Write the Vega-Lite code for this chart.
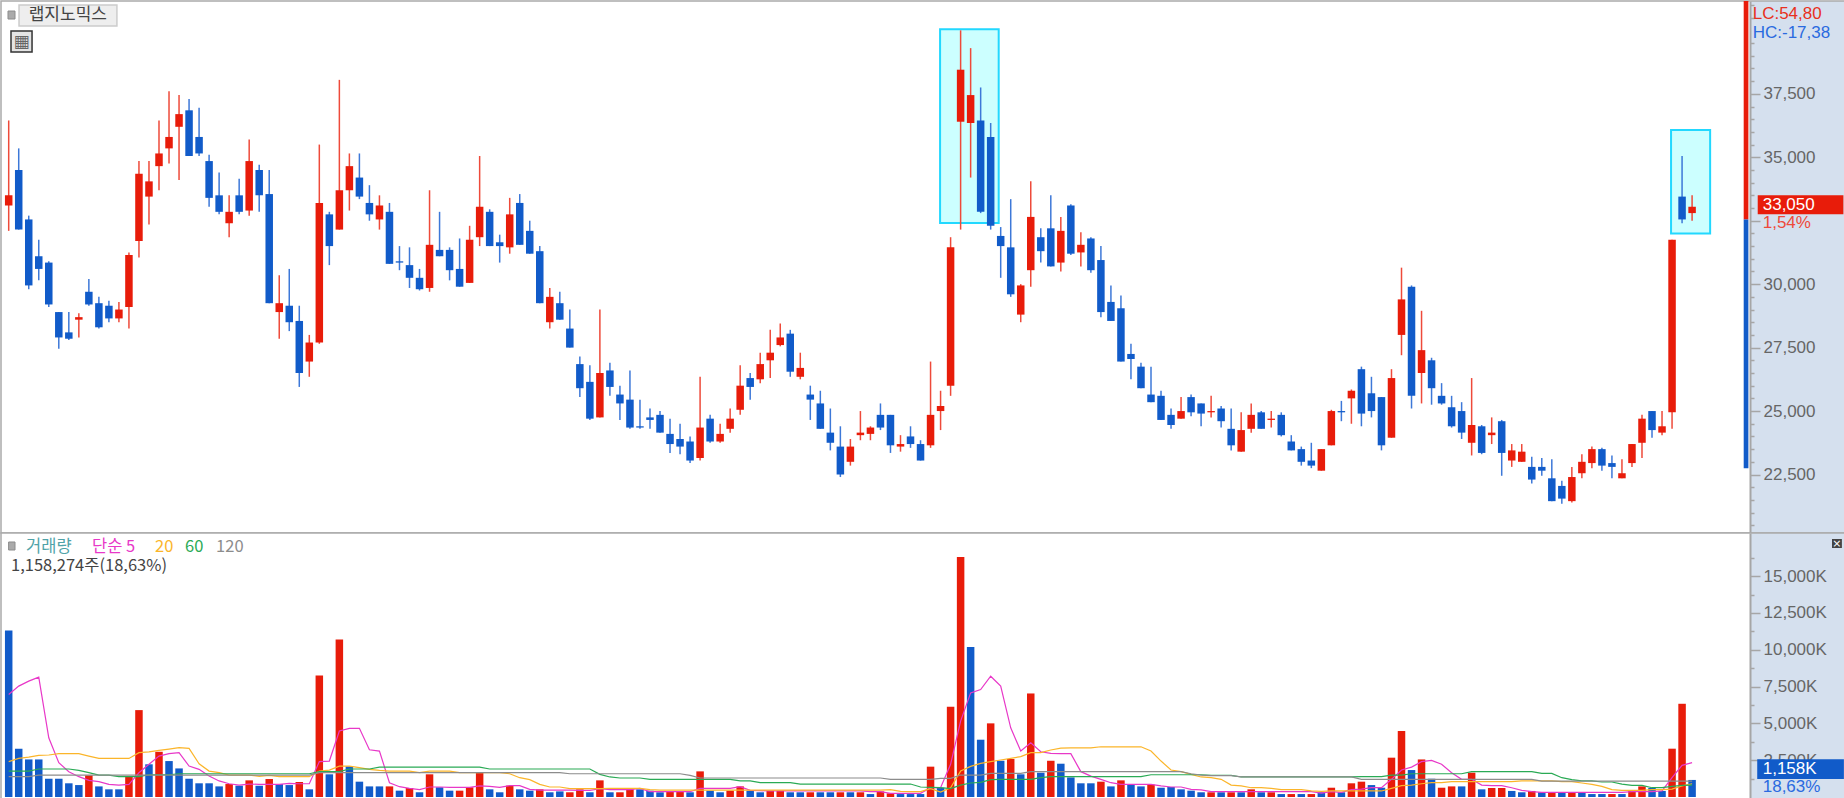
{"$schema":"https://vega.github.io/schema/vega-lite/v6.json","padding":0,"spacing":0,"bounds":"flush","resolve":{"scale":{"color":"independent"}},"background":"#ffffff","config":{"view":{"stroke":null},"concat":{"spacing":0},"axis":{"title":null}},
"datasets":{"d":[
{"i":0,"o":33100,"h":36450,"l":32100,"c":33500,"v":11300,"vd":"d","m5":6960,"m20":2400,"m60":1760,"m120":1380},
{"i":1,"o":34500,"h":35350,"l":32150,"c":32150,"v":3280,"vd":"d","m5":7530,"m20":2620,"m60":1760,"m120":1380},
{"i":2,"o":32550,"h":32700,"l":29800,"c":29950,"v":2550,"vd":"d","m5":7870,"m20":2710,"m60":1760,"m120":1380},
{"i":3,"o":31100,"h":31750,"l":30150,"c":30600,"v":2550,"vd":"d","m5":8140,"m20":2830,"m60":1900,"m120":1490},
{"i":4,"o":30850,"h":30900,"l":29100,"c":29200,"v":1240,"vd":"d","m5":4020,"m20":2850,"m60":1900,"m120":1490},
{"i":5,"o":28900,"h":28900,"l":27450,"c":27900,"v":1240,"vd":"d","m5":2330,"m20":2940,"m60":1900,"m120":1490},
{"i":6,"o":28100,"h":28900,"l":27800,"c":27850,"v":930,"vd":"d","m5":1720,"m20":2940,"m60":1900,"m120":1490},
{"i":7,"o":28600,"h":28850,"l":27900,"c":28700,"v":810,"vd":"d","m5":1380,"m20":2940,"m60":1810,"m120":1490},
{"i":8,"o":29700,"h":30200,"l":29150,"c":29200,"v":1470,"vd":"u","m5":1130,"m20":2780,"m60":1650,"m120":1490},
{"i":9,"o":29250,"h":29500,"l":28250,"c":28300,"v":720,"vd":"d","m5":1040,"m20":2620,"m60":1490,"m120":1490},
{"i":10,"o":29150,"h":29350,"l":28500,"c":28650,"v":520,"vd":"d","m5":860,"m20":2620,"m60":1490,"m120":1490},
{"i":11,"o":28650,"h":29300,"l":28500,"c":29000,"v":520,"vd":"d","m5":810,"m20":2620,"m60":1380,"m120":1490},
{"i":12,"o":29100,"h":31250,"l":28250,"c":31150,"v":1380,"vd":"u","m5":860,"m20":2620,"m60":1380,"m120":1490},
{"i":13,"o":31700,"h":34850,"l":31050,"c":34350,"v":5900,"vd":"u","m5":1650,"m20":3010,"m60":1380,"m120":1490},
{"i":14,"o":33450,"h":34850,"l":32350,"c":34050,"v":2220,"vd":"d","m5":2220,"m20":3070,"m60":1510,"m120":1490},
{"i":15,"o":34650,"h":36450,"l":33700,"c":35150,"v":3070,"vd":"u","m5":2780,"m20":3160,"m60":1510,"m120":1490},
{"i":16,"o":35350,"h":37600,"l":34750,"c":35800,"v":2440,"vd":"d","m5":2940,"m20":3250,"m60":1510,"m120":1490},
{"i":17,"o":36200,"h":37450,"l":34100,"c":36700,"v":1940,"vd":"d","m5":3010,"m20":3350,"m60":1580,"m120":1490},
{"i":18,"o":36850,"h":37300,"l":35050,"c":35050,"v":1240,"vd":"d","m5":2100,"m20":3300,"m60":1580,"m120":1490},
{"i":19,"o":35800,"h":36950,"l":35050,"c":35150,"v":930,"vd":"d","m5":1880,"m20":2260,"m60":1580,"m120":1490},
{"i":20,"o":34850,"h":35100,"l":33050,"c":33400,"v":930,"vd":"d","m5":1420,"m20":1760,"m60":1580,"m120":1490},
{"i":21,"o":33500,"h":34400,"l":32750,"c":32850,"v":720,"vd":"d","m5":1090,"m20":1650,"m60":1580,"m120":1490},
{"i":22,"o":32400,"h":33500,"l":31850,"c":32850,"v":880,"vd":"u","m5":900,"m20":1490,"m60":1580,"m120":1490},
{"i":23,"o":33500,"h":34150,"l":32750,"c":32850,"v":770,"vd":"d","m5":810,"m20":1490,"m60":1580,"m120":1490},
{"i":24,"o":32900,"h":35700,"l":32700,"c":34850,"v":1130,"vd":"u","m5":880,"m20":1490,"m60":1580,"m120":1490},
{"i":25,"o":34500,"h":34700,"l":32850,"c":33500,"v":770,"vd":"d","m5":860,"m20":1400,"m60":1580,"m120":1490},
{"i":26,"o":33550,"h":34500,"l":29250,"c":29250,"v":1220,"vd":"u","m5":860,"m20":1470,"m60":1580,"m120":1490},
{"i":27,"o":28900,"h":30350,"l":27850,"c":29250,"v":880,"vd":"d","m5":860,"m20":1380,"m60":1580,"m120":1490},
{"i":28,"o":29150,"h":30600,"l":28150,"c":28500,"v":810,"vd":"d","m5":930,"m20":1380,"m60":1580,"m120":1490},
{"i":29,"o":28550,"h":29150,"l":25950,"c":26500,"v":1020,"vd":"u","m5":900,"m20":1380,"m60":1580,"m120":1490},
{"i":30,"o":26950,"h":28000,"l":26350,"c":27700,"v":520,"vd":"d","m5":900,"m20":1380,"m60":1580,"m120":1490},
{"i":31,"o":27700,"h":35500,"l":27650,"c":33200,"v":8250,"vd":"u","m5":2400,"m20":1760,"m60":1720,"m120":1650},
{"i":32,"o":32750,"h":32850,"l":30750,"c":31500,"v":1540,"vd":"d","m5":2440,"m20":1830,"m60":1720,"m120":1650},
{"i":33,"o":32150,"h":38050,"l":32150,"c":33700,"v":10690,"vd":"u","m5":4480,"m20":2100,"m60":1720,"m120":1650},
{"i":34,"o":33700,"h":35150,"l":32900,"c":34650,"v":2080,"vd":"d","m5":4660,"m20":2100,"m60":1900,"m120":1650},
{"i":35,"o":34200,"h":35150,"l":33350,"c":33450,"v":1040,"vd":"d","m5":4660,"m20":1990,"m60":1900,"m120":1650},
{"i":36,"o":33200,"h":33900,"l":32500,"c":32750,"v":720,"vd":"d","m5":3210,"m20":1880,"m60":1900,"m120":1650},
{"i":37,"o":32550,"h":33500,"l":32150,"c":33100,"v":720,"vd":"d","m5":3120,"m20":1810,"m60":2030,"m120":1650},
{"i":38,"o":32850,"h":33200,"l":30800,"c":30800,"v":720,"vd":"u","m5":970,"m20":1760,"m60":2030,"m120":1650},
{"i":39,"o":30900,"h":31500,"l":30550,"c":30850,"v":430,"vd":"d","m5":700,"m20":1760,"m60":2030,"m120":1650},
{"i":40,"o":30750,"h":31450,"l":29850,"c":30250,"v":610,"vd":"u","m5":590,"m20":1760,"m60":2030,"m120":1650},
{"i":41,"o":30250,"h":30600,"l":29750,"c":29800,"v":320,"vd":"d","m5":500,"m20":1650,"m60":2030,"m120":1650},
{"i":42,"o":29850,"h":33700,"l":29700,"c":31550,"v":1540,"vd":"u","m5":680,"m20":1760,"m60":2030,"m120":1650},
{"i":43,"o":31350,"h":32850,"l":31100,"c":31100,"v":660,"vd":"d","m5":680,"m20":1760,"m60":2030,"m120":1650},
{"i":44,"o":31350,"h":31450,"l":30150,"c":30550,"v":430,"vd":"d","m5":660,"m20":1760,"m60":2030,"m120":1650},
{"i":45,"o":30600,"h":31800,"l":29900,"c":29900,"v":430,"vd":"u","m5":660,"m20":1650,"m60":2030,"m120":1650},
{"i":46,"o":30050,"h":32300,"l":30050,"c":31750,"v":660,"vd":"u","m5":660,"m20":1650,"m60":2030,"m120":1650},
{"i":47,"o":31850,"h":35050,"l":31500,"c":33050,"v":1650,"vd":"u","m5":750,"m20":1650,"m60":2030,"m120":1650},
{"i":48,"o":32850,"h":32950,"l":31500,"c":31500,"v":520,"vd":"d","m5":720,"m20":1650,"m60":1900,"m120":1650},
{"i":49,"o":31650,"h":31950,"l":30850,"c":31500,"v":320,"vd":"d","m5":660,"m20":1650,"m60":1900,"m120":1650},
{"i":50,"o":31450,"h":33400,"l":31200,"c":32750,"v":770,"vd":"u","m5":770,"m20":1580,"m60":1900,"m120":1650},
{"i":51,"o":33200,"h":33550,"l":31550,"c":31550,"v":520,"vd":"d","m5":770,"m20":1310,"m60":1900,"m120":1650},
{"i":52,"o":32100,"h":32500,"l":31200,"c":31200,"v":430,"vd":"d","m5":520,"m20":1180,"m60":1900,"m120":1650},
{"i":53,"o":31300,"h":31500,"l":29250,"c":29250,"v":520,"vd":"u","m5":470,"m20":860,"m60":1900,"m120":1650},
{"i":54,"o":28500,"h":29850,"l":28250,"c":29500,"v":320,"vd":"d","m5":470,"m20":680,"m60":1900,"m120":1650},
{"i":55,"o":29250,"h":29700,"l":28600,"c":28600,"v":380,"vd":"d","m5":470,"m20":680,"m60":1900,"m120":1650},
{"i":56,"o":28250,"h":29000,"l":27500,"c":27500,"v":320,"vd":"u","m5":470,"m20":570,"m60":1900,"m120":1580},
{"i":57,"o":26850,"h":27150,"l":25550,"c":25900,"v":520,"vd":"u","m5":450,"m20":570,"m60":1900,"m120":1580},
{"i":58,"o":26150,"h":26800,"l":24650,"c":24700,"v":320,"vd":"d","m5":450,"m20":570,"m60":1900,"m120":1580},
{"i":59,"o":24750,"h":29000,"l":24750,"c":26500,"v":1130,"vd":"u","m5":560,"m20":570,"m60":1540,"m120":1580},
{"i":60,"o":26600,"h":26900,"l":25600,"c":25950,"v":320,"vd":"d","m5":500,"m20":590,"m60":1360,"m120":1580},
{"i":61,"o":25650,"h":26000,"l":24650,"c":25300,"v":320,"vd":"u","m5":500,"m20":590,"m60":1290,"m120":1580},
{"i":62,"o":25450,"h":26600,"l":24300,"c":24350,"v":520,"vd":"u","m5":500,"m20":590,"m60":1290,"m120":1580},
{"i":63,"o":24400,"h":25450,"l":24300,"c":24350,"v":520,"vd":"d","m5":590,"m20":590,"m60":1290,"m120":1580},
{"i":64,"o":24750,"h":25100,"l":24300,"c":24650,"v":430,"vd":"d","m5":360,"m20":500,"m60":1200,"m120":1580},
{"i":65,"o":24850,"h":25000,"l":24150,"c":24150,"v":320,"vd":"d","m5":360,"m20":460,"m60":1200,"m120":1580},
{"i":66,"o":24100,"h":24700,"l":23350,"c":23700,"v":380,"vd":"u","m5":360,"m20":460,"m60":1200,"m120":1580},
{"i":67,"o":23900,"h":24500,"l":23300,"c":23600,"v":380,"vd":"u","m5":360,"m20":460,"m60":1200,"m120":1580},
{"i":68,"o":23800,"h":24000,"l":22950,"c":23050,"v":320,"vd":"d","m5":360,"m20":460,"m60":1200,"m120":1470},
{"i":69,"o":23150,"h":26350,"l":23050,"c":24350,"v":1740,"vd":"u","m5":590,"m20":460,"m60":1200,"m120":1290},
{"i":70,"o":24700,"h":24850,"l":23750,"c":23800,"v":430,"vd":"d","m5":590,"m20":460,"m60":1200,"m120":1290},
{"i":71,"o":23800,"h":24500,"l":23750,"c":24100,"v":320,"vd":"d","m5":590,"m20":460,"m60":1200,"m120":1290},
{"i":72,"o":24300,"h":25100,"l":24150,"c":24700,"v":430,"vd":"u","m5":590,"m20":460,"m60":1200,"m120":1290},
{"i":73,"o":25050,"h":26800,"l":24850,"c":26000,"v":720,"vd":"u","m5":700,"m20":460,"m60":1090,"m120":1290},
{"i":74,"o":26300,"h":26500,"l":25450,"c":25950,"v":430,"vd":"d","m5":450,"m20":460,"m60":1090,"m120":1290},
{"i":75,"o":26250,"h":27300,"l":26100,"c":26850,"v":320,"vd":"d","m5":430,"m20":460,"m60":970,"m120":1290},
{"i":76,"o":27000,"h":28200,"l":26300,"c":27300,"v":430,"vd":"u","m5":410,"m20":460,"m60":970,"m120":1290},
{"i":77,"o":27600,"h":28450,"l":27550,"c":27900,"v":430,"vd":"u","m5":410,"m20":460,"m60":970,"m120":1290},
{"i":78,"o":28050,"h":28200,"l":26350,"c":26550,"v":320,"vd":"d","m5":410,"m20":460,"m60":970,"m120":1290},
{"i":79,"o":26350,"h":27300,"l":26250,"c":26700,"v":320,"vd":"d","m5":410,"m20":460,"m60":880,"m120":1290},
{"i":80,"o":25650,"h":26000,"l":24650,"c":25450,"v":320,"vd":"u","m5":410,"m20":460,"m60":880,"m120":1290},
{"i":81,"o":25300,"h":25800,"l":24300,"c":24300,"v":320,"vd":"d","m5":410,"m20":460,"m60":880,"m120":1290},
{"i":82,"o":24150,"h":25100,"l":23450,"c":23750,"v":320,"vd":"d","m5":410,"m20":460,"m60":880,"m120":1290},
{"i":83,"o":23600,"h":24400,"l":22400,"c":22500,"v":320,"vd":"u","m5":410,"m20":460,"m60":880,"m120":1290},
{"i":84,"o":23000,"h":23900,"l":22850,"c":23600,"v":320,"vd":"d","m5":410,"m20":460,"m60":880,"m120":1290},
{"i":85,"o":24050,"h":25000,"l":23850,"c":24150,"v":320,"vd":"u","m5":410,"m20":460,"m60":880,"m120":1290},
{"i":86,"o":24100,"h":24400,"l":23850,"c":24350,"v":200,"vd":"d","m5":360,"m20":460,"m60":880,"m120":1290},
{"i":87,"o":24850,"h":25300,"l":24250,"c":24350,"v":380,"vd":"u","m5":360,"m20":460,"m60":880,"m120":1290},
{"i":88,"o":24850,"h":24850,"l":23350,"c":23650,"v":250,"vd":"u","m5":250,"m20":500,"m60":880,"m120":1200},
{"i":89,"o":23600,"h":24050,"l":23400,"c":23700,"v":200,"vd":"d","m5":250,"m20":380,"m60":880,"m120":1200},
{"i":90,"o":24000,"h":24400,"l":23550,"c":23700,"v":200,"vd":"d","m5":250,"m20":360,"m60":880,"m120":1200},
{"i":91,"o":23700,"h":23850,"l":23050,"c":23050,"v":200,"vd":"d","m5":250,"m20":360,"m60":680,"m120":1200},
{"i":92,"o":23650,"h":26950,"l":23550,"c":24850,"v":2060,"vd":"u","m5":630,"m20":570,"m60":660,"m120":1200},
{"i":93,"o":25000,"h":25800,"l":24250,"c":25200,"v":630,"vd":"d","m5":630,"m20":340,"m60":630,"m120":1270},
{"i":94,"o":26000,"h":31850,"l":25600,"c":31450,"v":6130,"vd":"u","m5":2220,"m20":630,"m60":570,"m120":1270},
{"i":95,"o":36400,"h":40000,"l":32150,"c":38450,"v":16300,"vd":"u","m5":5150,"m20":1760,"m60":810,"m120":1490},
{"i":96,"o":36350,"h":39300,"l":34200,"c":37450,"v":10190,"vd":"d","m5":7070,"m20":2080,"m60":950,"m120":1490},
{"i":97,"o":36450,"h":37750,"l":32800,"c":32850,"v":3890,"vd":"d","m5":7300,"m20":2280,"m60":990,"m120":1490},
{"i":98,"o":35800,"h":36350,"l":32150,"c":32300,"v":5000,"vd":"u","m5":8200,"m20":2400,"m60":1180,"m120":1600},
{"i":99,"o":31900,"h":32250,"l":30250,"c":31500,"v":2460,"vd":"d","m5":7530,"m20":2510,"m60":1200,"m120":1600},
{"i":100,"o":31450,"h":33350,"l":29500,"c":29600,"v":2580,"vd":"u","m5":4700,"m20":2620,"m60":1200,"m120":1600},
{"i":101,"o":28800,"h":30000,"l":28500,"c":29950,"v":1540,"vd":"d","m5":3120,"m20":2740,"m60":1200,"m120":1600},
{"i":102,"o":30550,"h":34050,"l":29900,"c":32650,"v":7030,"vd":"u","m5":3680,"m20":3010,"m60":1200,"m120":1720},
{"i":103,"o":31850,"h":32200,"l":30850,"c":31300,"v":1650,"vd":"d","m5":3070,"m20":3010,"m60":1310,"m120":1720},
{"i":104,"o":32200,"h":33500,"l":30700,"c":30700,"v":2460,"vd":"u","m5":2960,"m20":3190,"m60":1380,"m120":1720},
{"i":105,"o":30850,"h":32650,"l":30500,"c":32100,"v":2260,"vd":"d","m5":2940,"m20":3320,"m60":1380,"m120":1720},
{"i":106,"o":33100,"h":33150,"l":31150,"c":31200,"v":1330,"vd":"d","m5":2940,"m20":3340,"m60":1380,"m120":1720},
{"i":107,"o":31250,"h":32050,"l":30700,"c":31550,"v":930,"vd":"d","m5":1720,"m20":3340,"m60":1380,"m120":1720},
{"i":108,"o":31800,"h":31850,"l":30450,"c":30550,"v":930,"vd":"d","m5":1420,"m20":3340,"m60":1380,"m120":1720},
{"i":109,"o":30950,"h":31500,"l":28700,"c":28900,"v":1040,"vd":"u","m5":1200,"m20":3410,"m60":1380,"m120":1720},
{"i":110,"o":29300,"h":29950,"l":28550,"c":28550,"v":720,"vd":"d","m5":970,"m20":3410,"m60":1380,"m120":1720},
{"i":111,"o":29050,"h":29550,"l":26950,"c":26950,"v":1130,"vd":"u","m5":860,"m20":3410,"m60":1380,"m120":1720},
{"i":112,"o":27250,"h":27650,"l":26250,"c":27050,"v":840,"vd":"d","m5":860,"m20":3410,"m60":1380,"m120":1720},
{"i":113,"o":26750,"h":26900,"l":25900,"c":25900,"v":720,"vd":"d","m5":860,"m20":3410,"m60":1380,"m120":1720},
{"i":114,"o":25650,"h":26750,"l":25350,"c":25350,"v":840,"vd":"u","m5":860,"m20":3120,"m60":1510,"m120":1720},
{"i":115,"o":25600,"h":25800,"l":24650,"c":24650,"v":630,"vd":"d","m5":750,"m20":2440,"m60":1510,"m120":1720},
{"i":116,"o":24850,"h":25100,"l":24300,"c":24450,"v":680,"vd":"d","m5":680,"m20":1830,"m60":1510,"m120":1720},
{"i":117,"o":24700,"h":25550,"l":24700,"c":25000,"v":520,"vd":"d","m5":680,"m20":1720,"m60":1510,"m120":1720},
{"i":118,"o":25550,"h":25650,"l":24800,"c":24950,"v":430,"vd":"d","m5":520,"m20":1540,"m60":1510,"m120":1580},
{"i":119,"o":25300,"h":25300,"l":24400,"c":24900,"v":320,"vd":"d","m5":480,"m20":1360,"m60":1510,"m120":1490},
{"i":120,"o":24950,"h":25600,"l":24750,"c":25000,"v":320,"vd":"u","m5":360,"m20":1310,"m60":1470,"m120":1450},
{"i":121,"o":25100,"h":25200,"l":24350,"c":24600,"v":320,"vd":"d","m5":360,"m20":1200,"m60":1470,"m120":1450},
{"i":122,"o":24300,"h":25100,"l":23450,"c":23650,"v":320,"vd":"u","m5":360,"m20":810,"m60":1470,"m120":1450},
{"i":123,"o":23400,"h":24950,"l":23400,"c":24250,"v":320,"vd":"d","m5":360,"m20":750,"m60":1360,"m120":1360},
{"i":124,"o":24300,"h":25300,"l":24150,"c":24850,"v":520,"vd":"u","m5":360,"m20":630,"m60":1360,"m120":1360},
{"i":125,"o":24950,"h":25000,"l":24300,"c":24300,"v":320,"vd":"d","m5":360,"m20":630,"m60":1360,"m120":1360},
{"i":126,"o":24650,"h":25000,"l":24350,"c":24700,"v":320,"vd":"u","m5":360,"m20":590,"m60":1360,"m120":1360},
{"i":127,"o":24850,"h":24950,"l":24000,"c":24050,"v":200,"vd":"d","m5":360,"m20":500,"m60":1360,"m120":1360},
{"i":128,"o":23800,"h":24050,"l":23450,"c":23450,"v":200,"vd":"u","m5":360,"m20":500,"m60":1360,"m120":1360},
{"i":129,"o":23500,"h":23600,"l":22850,"c":23000,"v":200,"vd":"d","m5":360,"m20":500,"m60":1360,"m120":1360},
{"i":130,"o":23050,"h":23750,"l":22750,"c":22850,"v":200,"vd":"u","m5":360,"m20":410,"m60":1360,"m120":1360},
{"i":131,"o":22650,"h":23500,"l":22650,"c":23500,"v":320,"vd":"d","m5":270,"m20":380,"m60":1360,"m120":1360},
{"i":132,"o":23650,"h":25050,"l":23650,"c":25000,"v":630,"vd":"u","m5":360,"m20":410,"m60":1360,"m120":1360},
{"i":133,"o":25000,"h":25400,"l":24600,"c":24950,"v":320,"vd":"d","m5":320,"m20":410,"m60":1360,"m120":1360},
{"i":134,"o":25500,"h":25850,"l":24500,"c":25800,"v":930,"vd":"u","m5":500,"m20":410,"m60":1360,"m120":1360},
{"i":135,"o":26650,"h":26750,"l":24400,"c":24900,"v":1040,"vd":"u","m5":540,"m20":410,"m60":1380,"m120":1200},
{"i":136,"o":25700,"h":26350,"l":24750,"c":25000,"v":810,"vd":"d","m5":630,"m20":410,"m60":1380,"m120":1200},
{"i":137,"o":25550,"h":25550,"l":23450,"c":23650,"v":630,"vd":"d","m5":630,"m20":410,"m60":1380,"m120":1200},
{"i":138,"o":23950,"h":26650,"l":23950,"c":26300,"v":2670,"vd":"u","m5":1200,"m20":590,"m60":1490,"m120":1200},
{"i":139,"o":28000,"h":30650,"l":27200,"c":29400,"v":4480,"vd":"u","m5":1830,"m20":770,"m60":1490,"m120":1200},
{"i":140,"o":29900,"h":29950,"l":25100,"c":25600,"v":1830,"vd":"d","m5":2030,"m20":810,"m60":1580,"m120":1200},
{"i":141,"o":26500,"h":28950,"l":25300,"c":27400,"v":2550,"vd":"u","m5":2400,"m20":900,"m60":1580,"m120":1200},
{"i":142,"o":27000,"h":27100,"l":25250,"c":25900,"v":1240,"vd":"d","m5":2490,"m20":970,"m60":1580,"m120":1200},
{"i":143,"o":25600,"h":26100,"l":25250,"c":25300,"v":630,"vd":"u","m5":2220,"m20":970,"m60":1580,"m120":1200},
{"i":144,"o":25150,"h":25600,"l":24350,"c":24400,"v":720,"vd":"u","m5":1650,"m20":1040,"m60":1580,"m120":1200},
{"i":145,"o":25000,"h":25350,"l":23900,"c":24150,"v":720,"vd":"d","m5":1200,"m20":1040,"m60":1580,"m120":1200},
{"i":146,"o":23750,"h":26300,"l":23250,"c":24450,"v":1650,"vd":"u","m5":1200,"m20":1040,"m60":1720,"m120":1200},
{"i":147,"o":24400,"h":24450,"l":23300,"c":23350,"v":520,"vd":"d","m5":810,"m20":1040,"m60":1720,"m120":1200},
{"i":148,"o":24050,"h":24750,"l":23700,"c":24150,"v":610,"vd":"u","m5":770,"m20":1040,"m60":1720,"m120":1200},
{"i":149,"o":24600,"h":24650,"l":22450,"c":23350,"v":610,"vd":"u","m5":770,"m20":1040,"m60":1720,"m120":1200},
{"i":150,"o":23050,"h":23700,"l":22800,"c":23450,"v":410,"vd":"d","m5":630,"m20":1040,"m60":1720,"m120":1200},
{"i":151,"o":23000,"h":23700,"l":23000,"c":23400,"v":320,"vd":"d","m5":450,"m20":1090,"m60":1720,"m120":1200},
{"i":152,"o":22800,"h":23200,"l":22150,"c":22300,"v":410,"vd":"u","m5":360,"m20":1090,"m60":1720,"m120":1200},
{"i":153,"o":22800,"h":23150,"l":22450,"c":22650,"v":320,"vd":"d","m5":320,"m20":1090,"m60":1600,"m120":1080},
{"i":154,"o":22350,"h":23100,"l":21450,"c":21450,"v":320,"vd":"u","m5":320,"m20":1090,"m60":1600,"m120":1080},
{"i":155,"o":22050,"h":22250,"l":21350,"c":21550,"v":320,"vd":"d","m5":320,"m20":1040,"m60":1310,"m120":1080},
{"i":156,"o":21450,"h":22800,"l":21400,"c":22400,"v":320,"vd":"u","m5":320,"m20":1040,"m60":1180,"m120":1080},
{"i":157,"o":22550,"h":23300,"l":22350,"c":23000,"v":320,"vd":"d","m5":320,"m20":950,"m60":1090,"m120":1080},
{"i":158,"o":22950,"h":23600,"l":22750,"c":23500,"v":200,"vd":"d","m5":320,"m20":860,"m60":1090,"m120":1080},
{"i":159,"o":23500,"h":23550,"l":22650,"c":22850,"v":200,"vd":"d","m5":320,"m20":720,"m60":1020,"m120":1080},
{"i":160,"o":22950,"h":23250,"l":22350,"c":22800,"v":200,"vd":"u","m5":320,"m20":500,"m60":1020,"m120":1080},
{"i":161,"o":22350,"h":23100,"l":22350,"c":22550,"v":200,"vd":"d","m5":320,"m20":450,"m60":880,"m120":1080},
{"i":162,"o":22950,"h":23700,"l":22800,"c":23700,"v":410,"vd":"u","m5":360,"m20":450,"m60":790,"m120":1080},
{"i":163,"o":23750,"h":24850,"l":23150,"c":24700,"v":720,"vd":"u","m5":360,"m20":450,"m60":790,"m120":1080},
{"i":164,"o":25000,"h":25000,"l":23950,"c":24250,"v":610,"vd":"d","m5":360,"m20":500,"m60":630,"m120":1080},
{"i":165,"o":24150,"h":25000,"l":24050,"c":24400,"v":410,"vd":"d","m5":410,"m20":500,"m60":630,"m120":1080},
{"i":166,"o":24950,"h":31750,"l":24300,"c":31750,"v":3280,"vd":"u","m5":1310,"m20":540,"m60":720,"m120":1080},
{"i":167,"o":33450,"h":35050,"l":32400,"c":32550,"v":6330,"vd":"u","m5":2150,"m20":750,"m60":790,"m120":1080},
{"i":168,"o":32800,"h":33500,"l":32500,"c":33050,"v":1158,"vd":"d","m5":2330,"m20":900,"m60":810,"m120":1080}
]},
"vconcat":[
{"width":1844,"height":532,
"view":{"stroke":"#aaaaaa","strokeWidth":1.5,"fill":{"gradient":"linear","x1":0,"y1":0,"x2":1,"y2":0,"stops":[{"offset":0,"color":"#ffffff"},{"offset":0.949,"color":"#ffffff"},{"offset":0.949,"color":"#d5e0ee"},{"offset":1,"color":"#d5e0ee"}]}},
"resolve":{"axis":{"y":"independent"}},
"layer":[
{"data":{"values":[{"a":92.95,"b":98.8,"top":40040,"bot":32410},{"a":165.9,"b":169.8,"top":36070,"bot":32000}]},
"mark":{"type":"rect","fill":"#ccffff","stroke":"#22d8ff","strokeWidth":2},
"encoding":{"x":{"field":"a","type":"quantitative","scale":{"domain":[-0.768,183.26],"nice":false,"zero":false,"padding":0},"axis":null},"x2":{"field":"b"},
"y":{"field":"top","type":"quantitative","scale":{"domain":[20195,41157],"nice":false,"zero":false},
"axis":{"orient":"right","offset":-95,"values":[20500,21000,21500,22000,23000,23500,24000,24500,25500,26000,26500,27000,28000,28500,29000,29500,30500,31000,31500,32000,33000,33500,34000,34500,35500,36000,36500,37000,38000,38500,39000,39500,40500,41000],"labels":false,"domain":true,"domainColor":"#a6a6a6","domainWidth":2,"tickColor":"#a6a6a6","tickSize":4,"tickWidth":1.5,"grid":false}},
"y2":{"field":"bot"}}},
{"data":{"values":[{"a":173.15,"b":173.62,"top":41157,"bot":32550,"part":"up"}]},
"mark":{"type":"rect"},
"encoding":{"x":{"field":"a","type":"quantitative","scale":{"domain":[-0.768,183.26],"nice":false,"zero":false,"padding":0},"axis":null},"x2":{"field":"b"},
"y":{"field":"top","type":"quantitative","scale":{"domain":[20195,41157],"nice":false,"zero":false},
"axis":{"orient":"right","offset":-95,"values":[22500,25000,27500,30000,32500,35000,37500],"format":",","domain":false,"tickColor":"#a6a6a6","tickSize":10,"tickWidth":1.5,"labelFont":"Liberation Sans","labelFontSize":17,"labelColor":"#666666","labelPadding":3,"labelOverlap":false,"labelBound":false,"labelFlush":false,"grid":false,"labelExpr":"datum.value==32500?'':format(datum.value,',')"}},
"y2":{"field":"bot"},"color":{"value":"#e81c0a"}}},
{"data":{"values":[{"a":173.15,"b":173.62,"top":32550,"bot":22750}]},
"mark":{"type":"rect","color":"#115bc9"},
"encoding":{"x":{"field":"a","type":"quantitative","scale":{"domain":[-0.768,183.26],"nice":false,"zero":false,"padding":0},"axis":null},"x2":{"field":"b"},
"y":{"field":"top","type":"quantitative","scale":{"domain":[20195,41157],"nice":false,"zero":false},"axis":null},"y2":{"field":"bot"}}},
{"data":{"name":"d"},
"mark":{"type":"rule","strokeWidth":1.5},
"encoding":{"x":{"field":"i","type":"quantitative","scale":{"domain":[-0.768,183.26],"nice":false,"zero":false,"padding":0},"axis":null},
"y":{"field":"h","type":"quantitative","scale":{"domain":[20195,41157],"nice":false,"zero":false},"axis":null},"y2":{"field":"l"},
"color":{"condition":{"test":"datum.c>=datum.o","value":"#ee4a3a"},"value":"#3d78d8"}}},
{"data":{"name":"d"},
"mark":{"type":"bar","size":7.5,"orient":"vertical"},
"encoding":{"x":{"field":"i","type":"quantitative","scale":{"domain":[-0.768,183.26],"nice":false,"zero":false,"padding":0},"axis":null},
"y":{"field":"o","type":"quantitative","scale":{"domain":[20195,41157],"nice":false,"zero":false},"axis":null},"y2":{"field":"c"},
"color":{"condition":{"test":"datum.c>=datum.o","value":"#e81c0a"},"value":"#115bc9"}}},
{"data":{"values":[{"a":174.55,"b":183.1,"top":33500,"bot":32750}]},
"mark":{"type":"rect","color":"#e81c0a"},
"encoding":{"x":{"field":"a","type":"quantitative","scale":{"domain":[-0.768,183.26],"nice":false,"zero":false,"padding":0},"axis":null},"x2":{"field":"b"},
"y":{"field":"top","type":"quantitative","scale":{"domain":[20195,41157],"nice":false,"zero":false},"axis":null},"y2":{"field":"bot"}}},
{"data":{"values":[{"a":1.03,"b":10.8,"top":40998,"bot":40171}]},
"mark":{"type":"rect","fill":"#eeeeee","stroke":"#cccccc","strokeWidth":1.5},
"encoding":{"x":{"field":"a","type":"quantitative","scale":{"domain":[-0.768,183.26],"nice":false,"zero":false,"padding":0},"axis":null},"x2":{"field":"b"},
"y":{"field":"top","type":"quantitative","scale":{"domain":[20195,41157],"nice":false,"zero":false},"axis":null},"y2":{"field":"bot"}}},
{"data":{"values":[{"a":-0.07,"b":0.63,"top":40762,"bot":40447}]},
"mark":{"type":"rect","fill":"#aaaaaa","stroke":"#8c8c8c"},
"encoding":{"x":{"field":"a","type":"quantitative","scale":{"domain":[-0.768,183.26],"nice":false,"zero":false,"padding":0},"axis":null},"x2":{"field":"b"},
"y":{"field":"top","type":"quantitative","scale":{"domain":[20195,41157],"nice":false,"zero":false},"axis":null},"y2":{"field":"bot"}}},
{"data":{"values":[{"a":0.23,"b":2.33,"top":39974,"bot":39147}]},
"mark":{"type":"rect","fill":"#e4e4e4","stroke":"#333333","strokeWidth":1.5},
"encoding":{"x":{"field":"a","type":"quantitative","scale":{"domain":[-0.768,183.26],"nice":false,"zero":false,"padding":0},"axis":null},"x2":{"field":"b"},
"y":{"field":"top","type":"quantitative","scale":{"domain":[20195,41157],"nice":false,"zero":false},"axis":null},"y2":{"field":"bot"}}},
{"data":{"values":[{"at":1.28,"level":39560,"label":"▦"}]},
"mark":{"type":"text","font":"DejaVu Sans","fontSize":17,"color":"#666666","align":"center","baseline":"middle"},
"encoding":{"x":{"field":"at","type":"quantitative","scale":{"domain":[-0.768,183.26],"nice":false,"zero":false,"padding":0},"axis":null},
"y":{"field":"level","type":"quantitative","scale":{"domain":[20195,41157],"nice":false,"zero":false},"axis":null},"text":{"field":"label"}}},
{"data":{"values":[{"at":5.9,"level":40590,"label":"랩지노믹스"}]},
"mark":{"type":"text","font":"Noto Sans CJK KR","fontSize":17,"color":"#444444","align":"center","baseline":"middle"},
"encoding":{"x":{"field":"at","type":"quantitative","scale":{"domain":[-0.768,183.26],"nice":false,"zero":false,"padding":0},"axis":null},
"y":{"field":"level","type":"quantitative","scale":{"domain":[20195,41157],"nice":false,"zero":false},"axis":null},"text":{"field":"label"}}},
{"data":{"values":[{"at":174.05,"level":40656,"label":"LC:54,80","part":"lc"},{"at":174.05,"level":39907,"label":"HC:-17,38","part":"hc"},{"at":175.05,"level":33100,"label":"33,050","part":"now"},{"at":175.05,"level":32421,"label":"1,54%","part":"pct"}]},
"mark":{"type":"text","font":"Liberation Sans","fontSize":17,"align":"left","baseline":"middle"},
"encoding":{"x":{"field":"at","type":"quantitative","scale":{"domain":[-0.768,183.26],"nice":false,"zero":false,"padding":0},"axis":null},
"y":{"field":"level","type":"quantitative","scale":{"domain":[20195,41157],"nice":false,"zero":false},"axis":null},"text":{"field":"label"},
"color":{"field":"part","type":"nominal","legend":null,"scale":{"domain":["lc","hc","now","pct"],"range":["#e83020","#2a6ae0","#ffffff","#ee4a3a"]}}}}
]},
{"width":1844,"height":266,
"view":{"stroke":"#aaaaaa","strokeWidth":1.5,"fill":{"gradient":"linear","x1":0,"y1":0,"x2":1,"y2":0,"stops":[{"offset":0,"color":"#ffffff"},{"offset":0.949,"color":"#ffffff"},{"offset":0.949,"color":"#d5e0ee"},{"offset":1,"color":"#d5e0ee"}]}},
"resolve":{"axis":{"y":"independent"}},
"layer":[
{"data":{"name":"d"},
"mark":{"type":"bar","size":7.5,"orient":"vertical"},
"encoding":{"x":{"field":"i","type":"quantitative","scale":{"domain":[-0.768,183.26],"nice":false,"zero":false,"padding":0},"axis":null},
"y":{"field":"v","type":"quantitative","scale":{"domain":[-136,17926],"nice":false,"zero":false},
"axis":{"orient":"right","offset":-95,"values":[1250,3750,6250,8750,11250,13750,16250],"labels":false,"domain":true,"domainColor":"#a6a6a6","domainWidth":2,"tickColor":"#a6a6a6","tickSize":4,"tickWidth":1.5,"grid":false}},
"y2":{"datum":0},
"color":{"condition":{"test":"datum.vd=='u'","value":"#e81c0a"},"value":"#115bc9"}}},
{"data":{"name":"d"},
"mark":{"type":"line","strokeWidth":1.2,"color":"#e838c8"},
"encoding":{"x":{"field":"i","type":"quantitative","scale":{"domain":[-0.768,183.26],"nice":false,"zero":false,"padding":0},"axis":null},
"y":{"field":"m5","type":"quantitative","scale":{"domain":[-136,17926],"nice":false,"zero":false},
"axis":{"orient":"right","offset":-95,"values":[2500,5000,7500,10000,12500,15000],"domain":false,"tickColor":"#a6a6a6","tickSize":10,"tickWidth":1.5,"labelFont":"Liberation Sans","labelFontSize":17,"labelColor":"#666666","labelPadding":3,"labelOverlap":false,"labelBound":false,"labelFlush":false,"grid":false,"labelExpr":"format(datum.value,',')+'K'"}}}},
{"data":{"name":"d"},
"mark":{"type":"line","strokeWidth":1.2,"color":"#fbb52a"},
"encoding":{"x":{"field":"i","type":"quantitative","scale":{"domain":[-0.768,183.26],"nice":false,"zero":false,"padding":0},"axis":null},
"y":{"field":"m20","type":"quantitative","scale":{"domain":[-136,17926],"nice":false,"zero":false},"axis":null}}},
{"data":{"name":"d"},
"mark":{"type":"line","strokeWidth":1.2,"color":"#2aaa55"},
"encoding":{"x":{"field":"i","type":"quantitative","scale":{"domain":[-0.768,183.26],"nice":false,"zero":false,"padding":0},"axis":null},
"y":{"field":"m60","type":"quantitative","scale":{"domain":[-136,17926],"nice":false,"zero":false},"axis":null}}},
{"data":{"name":"d"},
"mark":{"type":"line","strokeWidth":1.2,"color":"#8c8c8c"},
"encoding":{"x":{"field":"i","type":"quantitative","scale":{"domain":[-0.768,183.26],"nice":false,"zero":false,"padding":0},"axis":null},
"y":{"field":"m120","type":"quantitative","scale":{"domain":[-136,17926],"nice":false,"zero":false},"axis":null}}},
{"data":{"values":[{"a":174.5,"b":183.15,"top":2560,"bot":1222}]},
"mark":{"type":"rect","color":"#115bc9"},
"encoding":{"x":{"field":"a","type":"quantitative","scale":{"domain":[-0.768,183.26],"nice":false,"zero":false,"padding":0},"axis":null},"x2":{"field":"b"},
"y":{"field":"top","type":"quantitative","scale":{"domain":[-136,17926],"nice":false,"zero":false},"axis":null},"y2":{"field":"bot"}}},
{"data":{"values":[{"a":-0.01,"b":0.63,"top":17315,"bot":16771}]},
"mark":{"type":"rect","fill":"#aaaaaa","stroke":"#8c8c8c"},
"encoding":{"x":{"field":"a","type":"quantitative","scale":{"domain":[-0.768,183.26],"nice":false,"zero":false,"padding":0},"axis":null},"x2":{"field":"b"},
"y":{"field":"top","type":"quantitative","scale":{"domain":[-136,17926],"nice":false,"zero":false},"axis":null},"y2":{"field":"bot"}}},
{"data":{"values":[{"a":181.96,"b":182.95,"top":17518,"bot":16907}]},
"mark":{"type":"rect","fill":"#444444"},
"encoding":{"x":{"field":"a","type":"quantitative","scale":{"domain":[-0.768,183.26],"nice":false,"zero":false,"padding":0},"axis":null},"x2":{"field":"b"},
"y":{"field":"top","type":"quantitative","scale":{"domain":[-136,17926],"nice":false,"zero":false},"axis":null},"y2":{"field":"bot"}}},
{"data":{"values":[{"at":182.45,"level":17210,"label":"×"}]},
"mark":{"type":"text","font":"DejaVu Sans","fontSize":11,"color":"#ffffff","align":"center","baseline":"middle"},
"encoding":{"x":{"field":"at","type":"quantitative","scale":{"domain":[-0.768,183.26],"nice":false,"zero":false,"padding":0},"axis":null},
"y":{"field":"level","type":"quantitative","scale":{"domain":[-136,17926],"nice":false,"zero":false},"axis":null},"text":{"field":"label"}}},
{"data":{"values":[{"at":1.73,"level":16995,"label":"거래량","part":"vol"},{"at":8.31,"level":16995,"label":"단순 5","part":"ma5"},{"at":14.6,"level":16995,"label":"20","part":"ma20"},{"at":17.6,"level":16995,"label":"60","part":"ma60"},{"at":20.7,"level":16995,"label":"120","part":"ma120"},{"at":0.23,"level":15685,"label":"1,158,274주(18,63%)","part":"info"}]},
"mark":{"type":"text","font":"Noto Sans CJK KR","fontSize":16.5,"align":"left","baseline":"middle"},
"encoding":{"x":{"field":"at","type":"quantitative","scale":{"domain":[-0.768,183.26],"nice":false,"zero":false,"padding":0},"axis":null},
"y":{"field":"level","type":"quantitative","scale":{"domain":[-136,17926],"nice":false,"zero":false},"axis":null},"text":{"field":"label"},
"color":{"field":"part","type":"nominal","legend":null,"scale":{"domain":["vol","ma5","ma20","ma60","ma120","info","now","pct"],"range":["#4fa3a8","#e838c8","#fbb52a","#2aaa55","#8c8c8c","#444444","#ffffff","#2a6ae0"]}}}},
{"data":{"values":[{"at":175.05,"level":1901,"label":"1,158K","part":"now"},{"at":175.05,"level":679,"label":"18,63%","part":"pct"}]},
"mark":{"type":"text","font":"Liberation Sans","fontSize":17,"align":"left","baseline":"middle"},
"encoding":{"x":{"field":"at","type":"quantitative","scale":{"domain":[-0.768,183.26],"nice":false,"zero":false,"padding":0},"axis":null},
"y":{"field":"level","type":"quantitative","scale":{"domain":[-136,17926],"nice":false,"zero":false},"axis":null},"text":{"field":"label"},
"color":{"field":"part","type":"nominal","legend":null,"scale":{"domain":["vol","ma5","ma20","ma60","ma120","info","now","pct"],"range":["#4fa3a8","#e838c8","#fbb52a","#2aaa55","#8c8c8c","#444444","#ffffff","#2a6ae0"]}}}}
]}
]}
